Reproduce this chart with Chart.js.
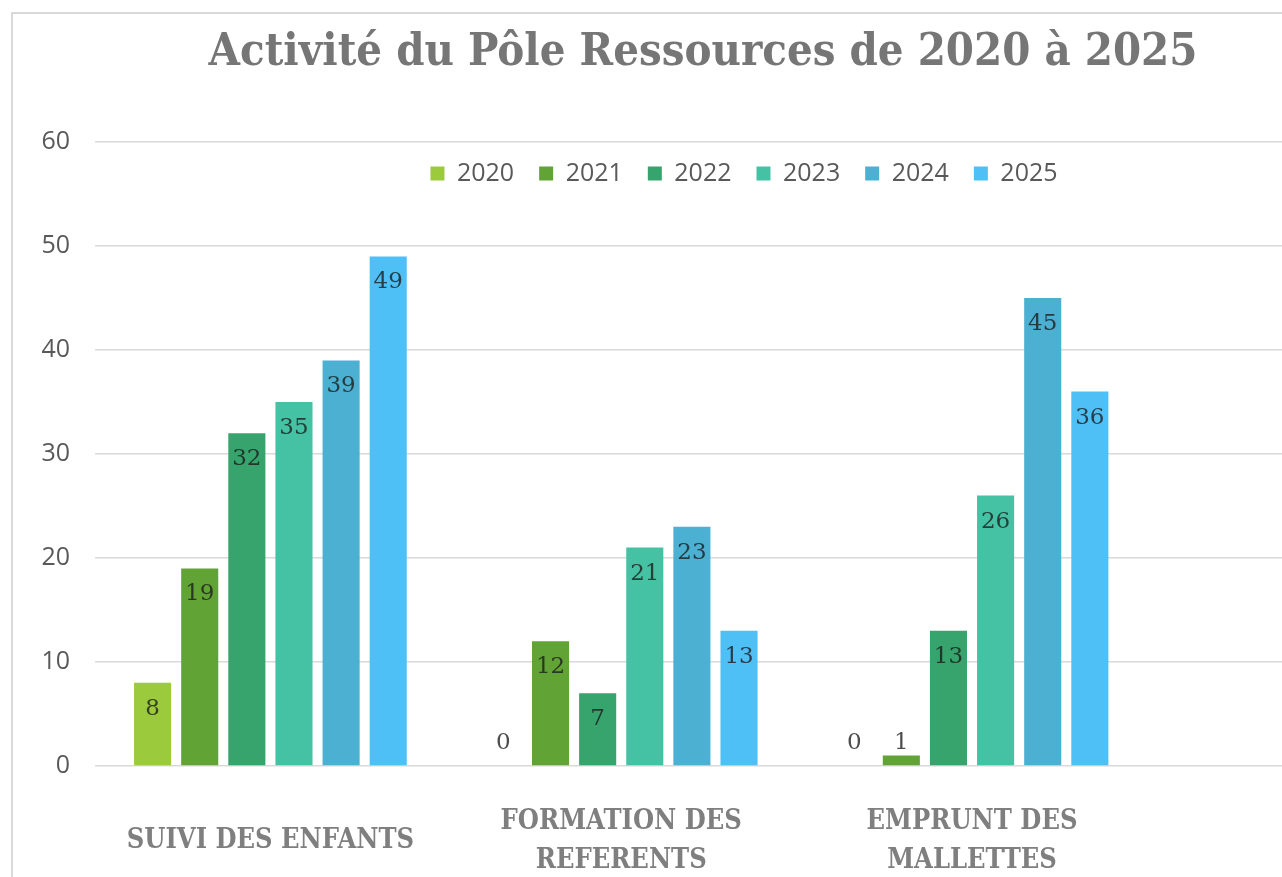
<!DOCTYPE html>
<html>
<head>
<meta charset="utf-8">
<script src="https://cdn.jsdelivr.net/npm/chart.js@4.4.1/dist/chart.umd.min.js"></script>
<style>
  body { margin: 0; background: #fff; overflow: hidden; }
  #frame { position: absolute; left: 11px; top: 12px; border: 2px solid #d9d9d9; }
  #chart { display: block; }
</style>
</head>
<body>
<div id="frame"><canvas id="chart" width="1380" height="900"></canvas></div>
<script>
// data
var categories = [
	['SUIVI DES ENFANTS'],
	['FORMATION DES', 'REFERENTS'],
	['EMPRUNT DES', 'MALLETTES']
];
var years = ['2020', '2021', '2022', '2023', '2024', '2025'];
var v2020 = [8, 0, 0];
var v2021 = [19, 12, 1];
var v2022 = [32, 7, 13];
var v2023 = [35, 21, 26];
var v2024 = [39, 23, 45];
var v2025 = [49, 13, 36];
var yTicks = [0, 10, 20, 30, 40, 50, 60];

var colors = ['#9bcb3c', '#62a336', '#36a46c', '#45c2a4', '#4bb0d2', '#4fc0f6'];
var series = [v2020, v2021, v2022, v2023, v2024, v2025];

var positions = categories.map(function(c, i){ return i; });

var datasets = [];
for (var i in years) {
	datasets.push({
		label: years[i],
		data: series[i],
		backgroundColor: colors[i],
		borderWidth: 0,
		categoryPercentage: 0.806,
		barPercentage: 0.787
	});
}

// value labels near the top of each bar
var valueLabels = {
	id: 'valueLabels',
	afterDatasetsDraw: function(chart){
		var ctx = chart.ctx;
		var base = chart.scales.y.getPixelForValue(0);
		ctx.save();
		ctx.font = '23px "DejaVu Serif"';
		ctx.fillStyle = 'rgba(25, 25, 25, 0.78)';
		ctx.textAlign = 'center';
		ctx.textBaseline = 'middle';
		chart.data.datasets.forEach(function(ds, i){
			chart.getDatasetMeta(i).data.forEach(function(bar, j){
				var y = Math.min(bar.y + 26, base - 23);
				ctx.fillText(ds.data[j], bar.x, y);
			});
		});
		ctx.restore();
	}
};

// legend sits inside the plot, under the top gridline
var legendInside = {
	id: 'legendInside',
	beforeInit: function(chart){
		var fit = chart.legend.fit;
		chart.legend.fit = function(){
			fit.call(this);
			this.height = 6;
		};
	},
	beforeDraw: function(chart){
		// let the legend paint below its (shrunk) box
		chart.legend.bottom = chart.legend.top + 80;
		chart.legend.height = 80;
	}
};

var ctx = document.getElementById('chart');

var barGraph = new Chart(ctx, {
	type: 'bar',
	data: {
		labels: positions,
		datasets: datasets
	},
	options: {
		responsive: false,
		animation: false,
		layout: { padding: 0 },
		plugins: {
			title: {
				display: true,
				text: 'Activité du Pôle Ressources de 2020 à 2025',
				color: '#767676',
				font: { family: '"DejaVu Serif Condensed", "DejaVu Serif"', size: 45, weight: 'bold', lineHeight: 1.2 },
				padding: { top: 12, bottom: 56 }
			},
			legend: {
				position: 'top',
				fullSize: false,
				labels: {
					boxWidth: 14,
					boxHeight: 14,
					padding: 25,
					color: '#595959',
					font: { family: 'Open Sans', size: 25 }
				}
			},
			tooltip: { enabled: false }
		},
		scales: {
			x: {
				type: 'linear',
				min: -0.5,
				max: 3.2,
				offset: false,
				grid: { display: false, drawTicks: false },
				border: { display: false },
				afterBuildTicks: function(scale){
					scale.ticks = positions.map(function(p){ return { value: p }; });
				},
				afterFit: function(scale){ scale.height = 148; },
				ticks: {
					autoSkip: false,
					maxRotation: 0,
					padding: 56,
					crossAlign: 'center',
					color: '#7f7f7f',
					font: { family: '"DejaVu Serif Condensed", "DejaVu Serif"', size: 27, weight: 'bold', lineHeight: 1.44 },
					callback: function(value){ return categories[value]; }
				}
			},
			y: {
				min: 0,
				max: 60,
				afterBuildTicks: function(scale){
					scale.ticks = yTicks.map(function(t){ return { value: t }; });
				},
				afterFit: function(scale){ scale.width = 82; },
				grid: { color: '#d9d9d9', lineWidth: 1.5, drawTicks: false },
				border: { display: false },
				ticks: {
					padding: 25,
					color: '#595959',
					font: { family: 'Open Sans', size: 25 }
				}
			}
		}
	},
	plugins: [valueLabels, legendInside]
});
</script>
</body>
</html>
